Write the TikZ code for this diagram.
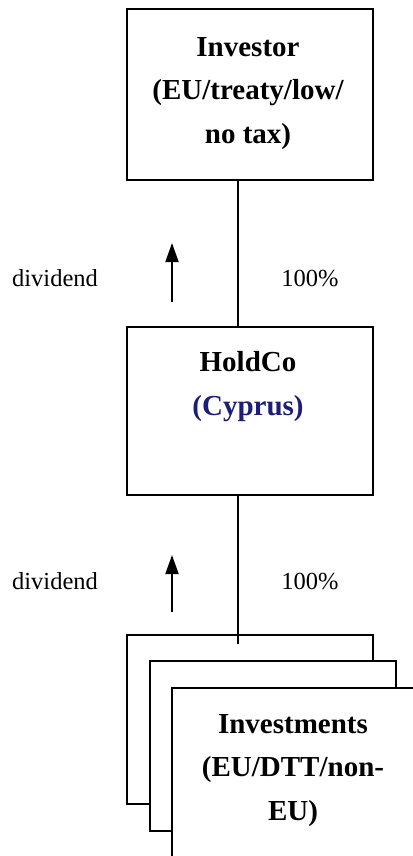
\documentclass[tikz,border=0pt]{standalone}
\usepackage{fontspec}
\setmainfont{Liberation Serif}
\usepackage{xcolor}
\usetikzlibrary{positioning, arrows.meta}
\definecolor{cyprusblue}{RGB}{30,30,120}

\begin{document}
\begin{tikzpicture}[
  x=1pt, y=1pt,
  entity/.style={draw, line width=2pt, fill=white, inner sep=0pt,
    minimum width=246pt, minimum height=170pt},
  title/.style={font=\fontsize{29}{43.5}\selectfont\bfseries, align=center, anchor=base},
  note/.style={font=\fontsize{24.5}{29}\selectfont, anchor=base},
  own/.style={line width=1.8pt},
  flow/.style={line width=1.8pt, -{Triangle[length=19pt, width=13pt]}}
]
\useasboundingbox (0,0) rectangle (412,-856);

% boxes
\node[entity, minimum height=171pt] (investor) at (250,-94.5) {};
\node[entity, minimum height=168pt] (holdco) at (250,-411) {};
\node[entity, minimum height=169pt] (inv1) at (250,-719.5) {};
\node[entity] (inv2) at (272.5,-746) {};
\node[entity] (inv3) at (295,-773) {};

% texts (base = last line)
\node[title] (investortxt) at (248,-143) {Investor\\(EU/treaty/low/\\no tax)};
\node[title] (holdcotxt) at (248,-415) {HoldCo\\\textcolor{cyprusblue}{(Cyprus)}};
\node[title] (investtxt) at (293,-820) {Investments\\(EU/DTT/non-\\EU)};

% ownership lines
\coordinate (stem) at (238,0);
\draw[own] (stem |- investor.south) -- (stem |- holdco.north);
\draw[own] (stem |- holdco.south) -- ([yshift=-10pt]stem |- inv1.north);

% dividends
\coordinate (divA) at (172,-302);
\coordinate (divAtip) at (172,-243);
\coordinate (divB) at (172,-612);
\coordinate (divBtip) at (172,-555);
\draw[flow] (divA) -- (divAtip);
\draw[flow] (divB) -- (divBtip);

\node[note] (div1) at (55,-286) {dividend};
\node[note] (pct1) at (310,-286) {100\%};
\node[note] (div2) at (55,-589) {dividend};
\node[note] (pct2) at (310,-589) {100\%};
\end{tikzpicture}
\end{document}
